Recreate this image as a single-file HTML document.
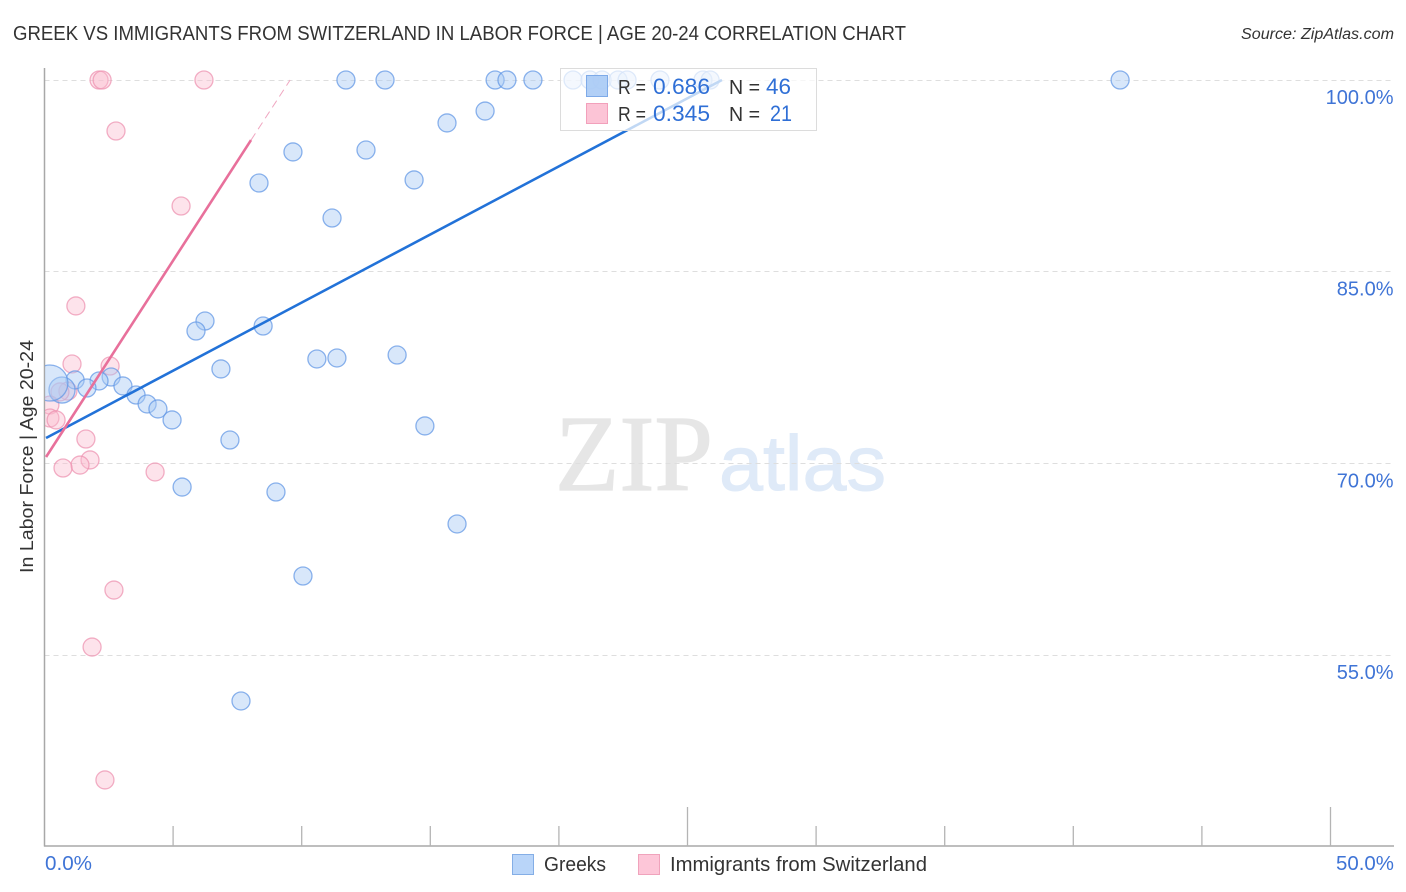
<!DOCTYPE html>
<html lang="en">
<head>
<meta charset="utf-8">
<title>Greek vs Immigrants from Switzerland in Labor Force | Age 20-24 Correlation Chart</title>
<style>
html,body{margin:0;padding:0;background:#fff;width:1406px;height:892px;overflow:hidden}
svg{display:block;font-family:"Liberation Sans",sans-serif}
</style>
</head>
<body>
<svg id="chart" xmlns="http://www.w3.org/2000/svg" width="1406" height="892" viewBox="0 0 1406 892">
  <defs>
    <clipPath id="plot-clip"><rect x="45" y="60" width="1349" height="786"/></clipPath>
  </defs>
  <rect x="0" y="0" width="1406" height="892" fill="#fff"/>
  <text x="13" y="40" font-size="20" fill="#333" textLength="893" lengthAdjust="spacingAndGlyphs">GREEK VS IMMIGRANTS FROM SWITZERLAND IN LABOR FORCE | AGE 20-24 CORRELATION CHART</text>
  <text x="1241" y="39" font-size="15.5" font-style="italic" fill="#333" textLength="153" lengthAdjust="spacingAndGlyphs">Source: ZipAtlas.com</text>

  <g>
    <text x="555" y="490" font-family="'Liberation Serif',serif" font-size="108" fill="#e6e6e6" stroke="#e6e6e6" stroke-width="1.2" textLength="158" lengthAdjust="spacingAndGlyphs">ZIP</text>
    <text x="719" y="490" font-size="78" fill="#dfeaf8" stroke="#dfeaf8" stroke-width="1" textLength="167" lengthAdjust="spacingAndGlyphs">atlas</text>
  </g>

  <g id="grid"></g>
  <g id="axes"></g>
  <g id="points" clip-path="url(#plot-clip)"></g>
  <g id="trends"></g>
  <g id="ylabels"></g>

  <text transform="translate(33 456.5) rotate(-90)" text-anchor="middle" font-size="18.5" fill="#333" textLength="233" lengthAdjust="spacingAndGlyphs">In Labor Force | Age 20-24</text>
  <text x="45" y="870" font-size="20" fill="#3f74d6" textLength="47" lengthAdjust="spacingAndGlyphs">0.0%</text>
  <text x="1336" y="870" font-size="20" fill="#3f74d6" textLength="58" lengthAdjust="spacingAndGlyphs">50.0%</text>

  <g>
    <rect x="560.5" y="68.5" width="256" height="62" fill="#fff" fill-opacity="0.72" stroke="#dcdcdc"/>
    <rect x="586.5" y="75.5" width="21" height="21" fill="#a9caf5" fill-opacity="0.9" stroke="#7eaae8"/>
    <rect x="586.5" y="103.5" width="21" height="20" fill="#fcc4d6" stroke="#f2a0bb"/>
    <text x="618" y="94" font-size="20" fill="#333" textLength="28" lengthAdjust="spacingAndGlyphs">R =</text>
    <text x="653" y="94" font-size="22" fill="#2f6fd6" textLength="57" lengthAdjust="spacingAndGlyphs">0.686</text>
    <text x="729" y="94" font-size="20" fill="#333" textLength="31" lengthAdjust="spacingAndGlyphs">N =</text>
    <text x="766" y="94" font-size="22" fill="#2f6fd6" textLength="25" lengthAdjust="spacingAndGlyphs">46</text>
    <text x="618" y="121" font-size="20" fill="#333" textLength="28" lengthAdjust="spacingAndGlyphs">R =</text>
    <text x="653" y="121" font-size="22" fill="#2f6fd6" textLength="57" lengthAdjust="spacingAndGlyphs">0.345</text>
    <text x="729" y="121" font-size="20" fill="#333" textLength="31" lengthAdjust="spacingAndGlyphs">N =</text>
    <text x="770" y="121" font-size="22" fill="#2f6fd6" textLength="22" lengthAdjust="spacingAndGlyphs">21</text>
  </g>

  <g>
    <rect x="512.5" y="854.5" width="21" height="20" fill="#b9d5f9" stroke="#84aee6"/>
    <text x="544" y="871" font-size="20" fill="#333" textLength="62" lengthAdjust="spacingAndGlyphs">Greeks</text>
    <rect x="638.5" y="854.5" width="21" height="20" fill="#fdc6d8" stroke="#f0a3bc"/>
    <text x="670" y="871" font-size="20" fill="#333" textLength="257" lengthAdjust="spacingAndGlyphs">Immigrants from Switzerland</text>
  </g>
</svg>
<script>
const yTicks = [100, 85, 70, 55];
const yTickLabels = ["100.0%", "85.0%", "70.0%", "55.0%"];
const xTicks = [5, 10, 15, 20, 25, 30, 35, 40, 45, 50];
const xMajorTicks = [25, 50];

const greekX = [11.72,13.24,17.52,17.98,18.99,20.55,21.21,21.68,22.30,22.65,23.93,25.60,25.88,41.82,17.13,15.65,12.50,9.66,14.37,8.34,11.18,6.24,5.89,8.50,10.59,11.37,13.71,6.86,2.59,2.12,1.19,1.65,3.05,3.56,3.99,4.41,4.96,14.79,7.21,5.35,9.00,16.04,10.05,7.64,0.68,0.21];
const greekY = [100,100,100,100,100,100,100,100,100,100,100,100,100,100,97.57,96.64,94.52,94.37,92.18,91.94,89.20,81.14,80.36,80.75,78.17,78.25,78.48,77.39,76.76,76.45,76.53,75.90,76.06,75.35,74.65,74.26,73.40,72.93,71.83,68.15,67.76,65.26,61.19,51.41,75.74,76.29];
const greekWeight = [1,1,1,1,1,1,1,1,1,1,1,1,1,1,1,1,1,1,1,1,1,1,1,1,1,1,1,1,1,1,1,1,1,1,1,1,1,1,1,1,1,1,1,1,2.1,4];

const immigrantX = [2.12,2.24,6.20,2.78,5.31,1.22,1.07,2.55,0.91,0.60,0.21,0.21,0.45,1.61,1.77,1.38,0.72,4.30,2.70,1.85,2.35];
const immigrantY = [100,100,100,96.01,90.14,82.32,77.78,77.62,75.66,75.59,74.57,73.55,73.40,71.91,70.27,69.87,69.64,69.33,60.09,55.63,45.23];
const immigrantWeight = [1,1,1,1,1,1,1,1,1,1,1,1,1,1,1,1,1,1,1,1,1];

const greekTrendX = [0.06, 26.34];
const greekTrendY = [71.99, 100];
const immigrantTrendX = [0.06, 8.03];
const immigrantTrendY = [70.5, 95.3];
const immigrantDashX = [8.03, 9.55];
const immigrantDashY = [95.3, 100];

const NS = "http://www.w3.org/2000/svg";
function xScale(v) { return 44.5 + v * 25.72; }
function yScale(v) { return 80 + (100 - v) * 12.78; }
function rScale(w) { return 9 * Math.sqrt(w); }
function make(tag, parent, attrs) {
  const el = document.createElementNS(NS, tag);
  Object.keys(attrs).forEach(function (k) { el.setAttribute(k, attrs[k]); });
  parent.appendChild(el);
  return el;
}

const grid = document.getElementById("grid");
const axes = document.getElementById("axes");
const pts = document.getElementById("points");
const trends = document.getElementById("trends");
const ylabels = document.getElementById("ylabels");

yTicks.forEach(function (t, i) {
  const y = Math.floor(yScale(t)) + 0.5;
  const line = make("line", grid, { x1: 44.5, x2: 1394, y1: y, y2: y, stroke: "#dedede", "stroke-width": 1, "stroke-dasharray": "5 4" });
  
  
  const label = make("text", ylabels, { x: 1393.5, y: yScale(t) + 24, "text-anchor": "end", "font-size": 20, fill: "#3f74d6" });
  label.textContent = yTickLabels[i];
  
  
});

const yAxis = make("line", axes, { x1: 44.5, x2: 44.5, y1: 68, y2: 846.5, stroke: "#a8a8a8", "stroke-width": 1.5 });


const xAxis = make("line", axes, { x1: 44, x2: 1394, y1: 846, y2: 846, stroke: "#a8a8a8", "stroke-width": 1.5 });


xTicks.forEach(function (t) {
  const major = xMajorTicks.indexOf(t) >= 0;
  const tick = make("line", axes, { x1: xScale(t), x2: xScale(t), y1: major ? 807 : 826, y2: 846, stroke: "#b4b4b4", "stroke-width": 1.3 });
  
  
});

immigrantX.forEach(function (v, i) {
  const c = make("circle", pts, { cx: xScale(v), cy: yScale(immigrantY[i]), r: rScale(immigrantWeight[i]), fill: "#fbbcd0", "fill-opacity": 0.42, stroke: "#ec8fae", "stroke-opacity": 0.7, "stroke-width": 1.3 });
  
  
});
greekX.forEach(function (v, i) {
  const c = make("circle", pts, { cx: xScale(v), cy: yScale(greekY[i]), r: rScale(greekWeight[i]), fill: "#a9caf5", "fill-opacity": 0.45, stroke: "#5f95e4", "stroke-opacity": 0.72, "stroke-width": 1.3 });
  
  
});

const greekLine = make("line", trends, { x1: xScale(greekTrendX[0]), y1: yScale(greekTrendY[0]), x2: xScale(greekTrendX[1]), y2: yScale(greekTrendY[1]), stroke: "#2272d8", "stroke-width": 2.6 });


const immLine = make("line", trends, { x1: xScale(immigrantTrendX[0]), y1: yScale(immigrantTrendY[0]), x2: xScale(immigrantTrendX[1]), y2: yScale(immigrantTrendY[1]), stroke: "#e8709b", "stroke-width": 2.6 });


const immDash = make("line", trends, { x1: xScale(immigrantDashX[0]), y1: yScale(immigrantDashY[0]), x2: xScale(immigrantDashX[1]), y2: yScale(immigrantDashY[1]), stroke: "#efa6c0", "stroke-width": 1, "stroke-dasharray": "8 5" });


</script>
</body>
</html>
